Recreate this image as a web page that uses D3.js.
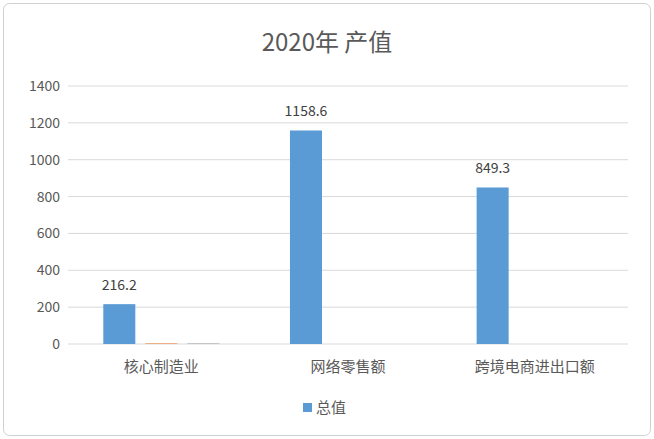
<!DOCTYPE html><html><head><meta charset="utf-8"><script src="https://cdn.jsdelivr.net/npm/d3@7"></script>
<style>body{margin:0;background:#fff}text{font-family:"Microsoft YaHei","Noto Sans CJK SC",sans-serif}</style></head><body><svg id="c" width="654" height="439"></svg><script>
const categories=["核心制造业","网络零售额","跨境电商进出口额"];
const seriesNames=["总值","s2","s3"];
const totalValues=[216.2,1158.6,849.3];
const s2Values=[3,0,0];
const s3Values=[3,0,0];
const yTicks=[0,200,400,600,800,1000,1200,1400];
const colors=["#5b9bd5","#ed7d31","#a5a5a5"];
const svg=d3.select("#c");
svg.append("rect").attr("x",3.5).attr("y",3.5).attr("width",647).attr("height",432).attr("rx",6).attr("fill","#fff").attr("stroke","#d0d0d0");
const m={l:68,r:628,t:86,b:344};
const x=d3.scaleBand().domain(categories).range([m.l,m.r]);
const xs=d3.scaleBand().domain(seriesNames).range([0,x.bandwidth()]).paddingInner(0.238).paddingOuter(0.84);
const y=d3.scaleLinear().domain([0,1400]).range([m.b,m.t]);
svg.append("g").selectAll("line").data(yTicks).join("line").attr("x1",m.l).attr("x2",m.r).attr("y1",d=>y(d)).attr("y2",d=>y(d)).attr("stroke","#d9d9d9");
svg.append("g").selectAll("text").data(yTicks).join("text").attr("x",60).attr("y",d=>y(d)+5).attr("text-anchor","end").attr("font-size",14).attr("fill","#595959").text(d=>d);
const data=[totalValues,s2Values,s3Values];
data.forEach((vals,si)=>{
 svg.append("g").selectAll("rect").data(vals).join("rect").attr("x",(d,i)=>x(categories[i])+xs(seriesNames[si])).attr("width",xs.bandwidth()).attr("y",d=>y(d)).attr("height",d=>m.b-y(d)).attr("fill",colors[si]);
});
svg.append("g").selectAll("text").data(totalValues).join("text").attr("x",(d,i)=>x(categories[i])+xs("总值")+xs.bandwidth()/2).attr("y",d=>y(d)-14).attr("text-anchor","middle").attr("font-size",14).attr("fill","#404040").text(d=>d.toFixed(1));
svg.append("g").selectAll("text").data(categories).join("text").attr("x",d=>x(d)+x.bandwidth()/2).attr("y",372).attr("text-anchor","middle").attr("font-size",15).attr("fill","#595959").text(d=>d);
svg.append("text").attr("x",327).attr("y",51).attr("text-anchor","middle").attr("font-size",24).attr("fill","#595959").text("2020年 产值");
svg.append("rect").attr("x",303).attr("y",403).attr("width",9).attr("height",9).attr("fill",colors[0]);
svg.append("text").attr("x",316).attr("y",413).attr("font-size",15).attr("fill","#595959").text("总值");
</script></body></html>
